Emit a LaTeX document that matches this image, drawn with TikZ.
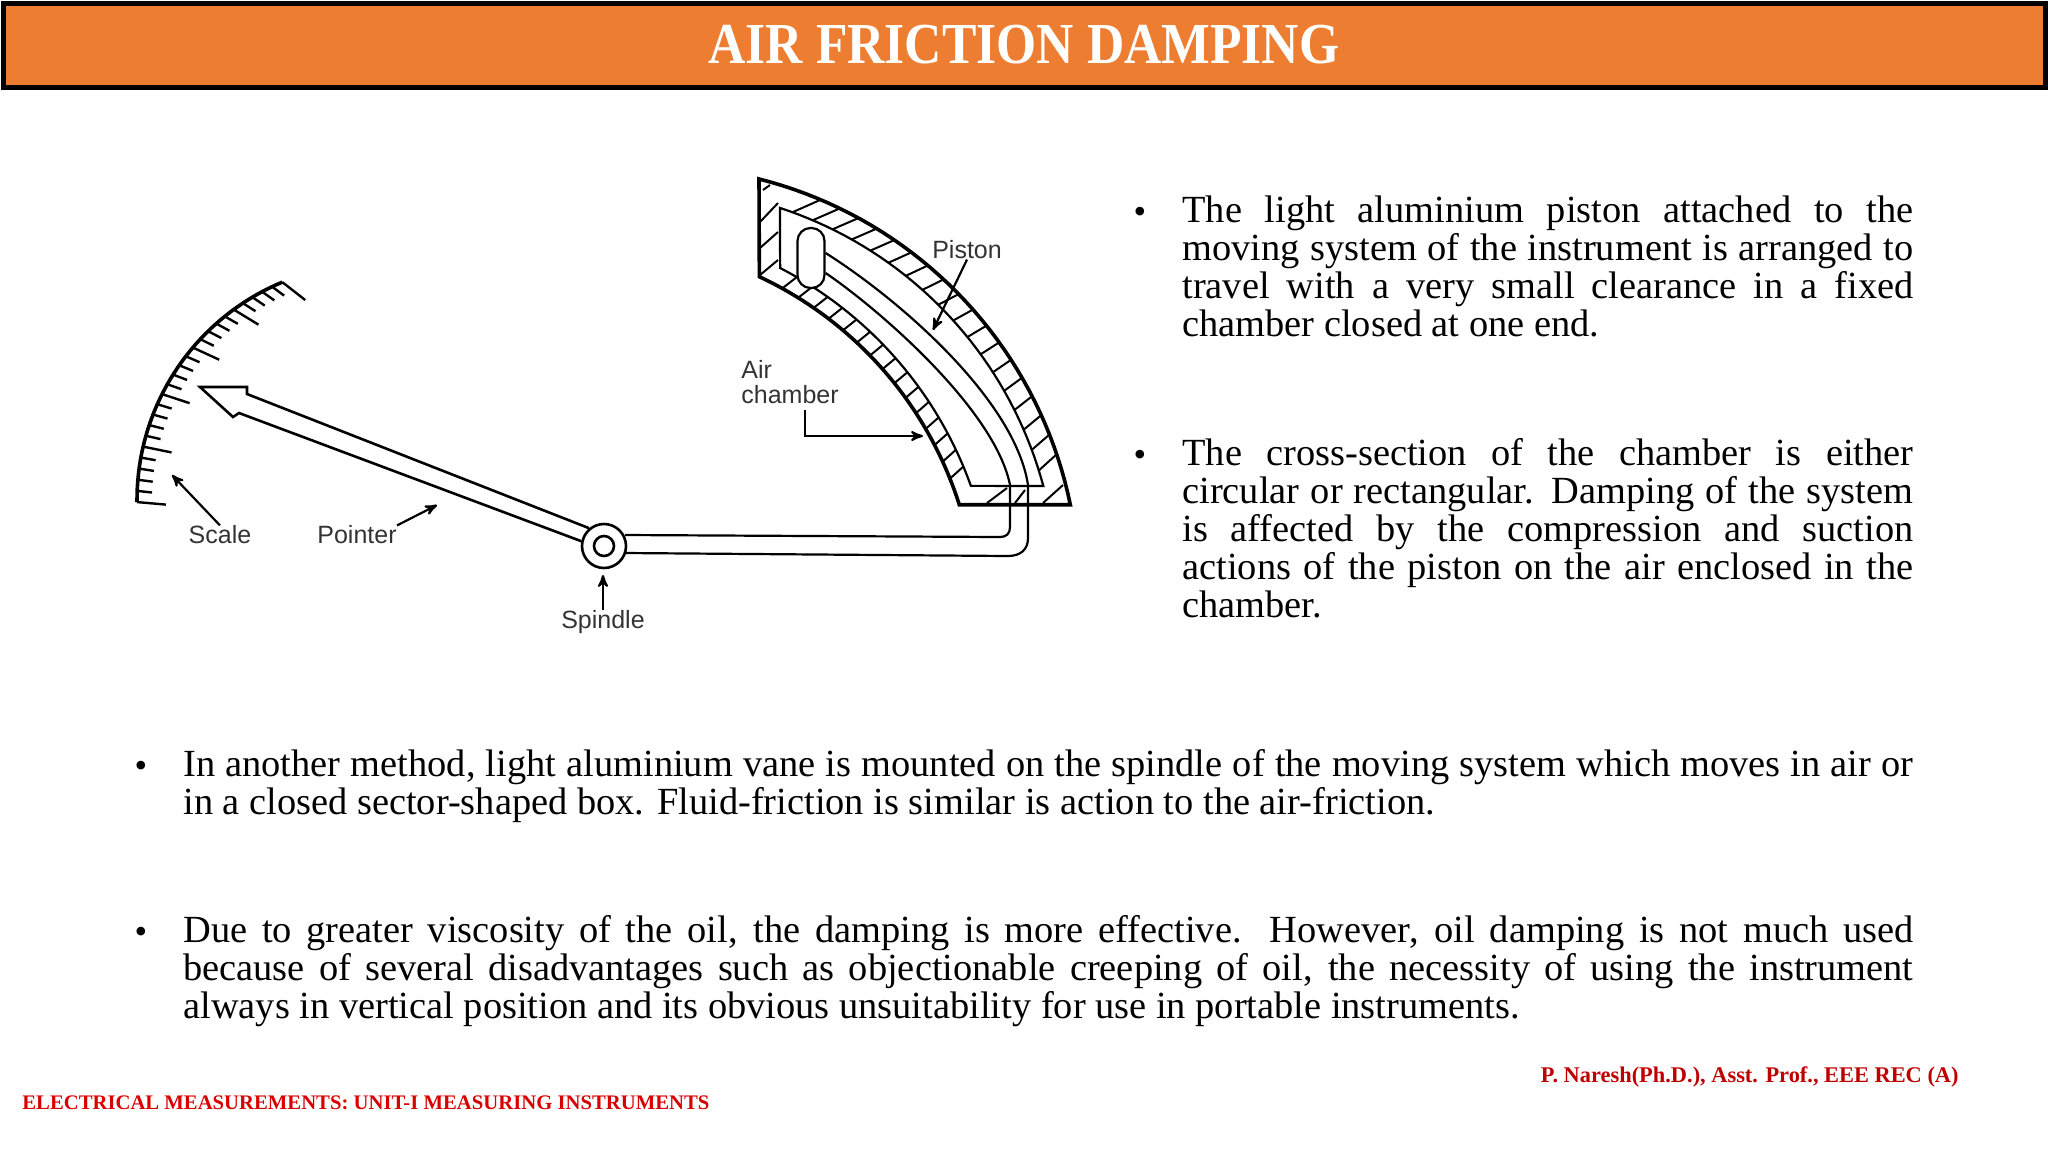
\documentclass[tikz,border=0pt]{standalone}
\usepackage{fontspec}
\setmainfont{Liberation Serif}
\newfontfamily\lblfont{Liberation Sans}
\usetikzlibrary{shapes,arrows}
\definecolor{banner}{HTML}{ED7D31}
\definecolor{inkgrey}{HTML}{333333}
\tikzstyle{wall} = [draw=black, line width=1.8pt, line join=miter]
\tikzstyle{thin wall} = [draw=black, line width=1.1pt]
\tikzstyle{hatch} = [draw=black, line width=1pt]
\tikzstyle{mark line} = [draw=black, line width=1.2pt]
\tikzstyle{lbl} = [font=\lblfont\fontsize{12.5}{12.5}\selectfont, text=inkgrey, inner sep=0pt, align=left]
\tikzstyle{para} = [anchor=north west, inner sep=0pt, align=justify, font=\fontsize{19.2}{19}\selectfont]
\tikzstyle{dot} = [inner sep=0pt, font=\fontsize{18}{19}\selectfont]

\begin{document}
\begin{tikzpicture}[x=0.5pt,y=-0.5pt,>=stealth']
\useasboundingbox (0,0) rectangle (2048,1152);

\node[draw=black, line width=2.5pt, fill=banner, minimum width=1021pt, minimum height=42pt, inner sep=0pt,
  text=white, font=\bfseries\fontsize{29}{30}\selectfont] (title) at (1024,45) {\raisebox{-0.5pt}{\scalebox{0.89}[1]{AIR FRICTION DAMPING}}};

% scale
\draw[wall] plot[domain=180.5:112.6,samples=40] ({373+236*cos(\x)},{500-236*sin(\x)});
\foreach \i in {0,...,25} {
  \pgfmathsetmacro{\ang}{180.5-\i*2.716}
  \pgfmathsetmacro{\dirn}{5+\i*1.32}
  \pgfmathsetmacro{\len}{mod(\i,5)==0 ? 29 : 15}
  \draw[mark line] ({373+236*cos(\ang)},{500-236*sin(\ang)}) -- ++(\dirn:\len);
}

% pointer
\node[draw=black, line width=1.3pt, circle, inner sep=0pt, minimum size=22pt, fill=white] (spindle) at (604,546) {};
\node[draw=black, line width=1.3pt, circle, inner sep=0pt, minimum size=10pt] (pivot) at (604,546) {};
\draw[thin wall, line width=1.3pt] (spindle.168) -- (239,413) -- (233,417) -- (200,387) -- (247,387) -- (247,394) -- (spindle.130);

% chamber
\draw[wall] plot[domain=75.8:11.6,samples=40] ({655+424*cos(\x)},{590-424*sin(\x)})
  -- plot[domain=17.6:64.9,samples=40] ({599+378*cos(\x)},{619-378*sin(\x)}) -- cycle;
\draw[thin wall] plot[domain=71.9:15,samples=40] ({655+402*cos(\x)},{590-402*sin(\x)})
  -- plot[domain=19.7:62.7,samples=40] ({599+395*cos(\x)},{619-395*sin(\x)}) -- cycle;
\foreach \a in {70,66.9,...,16} {
  \pgfmathsetmacro{\b}{\a-3+(70-\a)*0.083}
  \draw[hatch] ({655+402*cos(\a)},{590-402*sin(\a)}) -- ({655+424*cos(\b)},{590-424*sin(\b)});
}
\foreach \a in {61,58.2,...,20} {
  \pgfmathsetmacro{\b}{\a-1+(60-\a)*0.05}
  \draw[hatch] ({599+378*cos(\a)},{619-378*sin(\a)}) -- ({599+395*cos(\b)},{619-395*sin(\b)});
}
\draw[hatch] (763,190) -- (770,185);
\draw[hatch] (760,222) -- (778,203);
\draw[hatch] (760,248) -- (778,232);
\draw[hatch] (760,275) -- (778,260);
\draw[hatch] (987,503) -- (1007,488);
\draw[hatch] (1015,503) -- (1025,490);
\draw[hatch] (1043,503) -- (1063,485);

% piston and rod
\node[draw=black, line width=1.1pt, rounded corners=6.5pt, inner sep=0pt, minimum width=13.5pt, minimum height=30pt, fill=white] (piston) at (811,258) {};
\coordinate (rodupper) at (625,535);
\coordinate (rodlower) at (625,553);
\draw[thin wall] (piston.east |- 0,253) .. controls (900,300) and (1015,400) .. (1028,485) -- (1028,538)
  .. controls (1028,550) and (1020,556) .. (1008,556) -- (rodlower);
\draw[thin wall] (piston.east |- 0,273) .. controls (880,310) and (995,410) .. (1010,485) -- (1010,527)
  .. controls (1010,534) and (1006,537) .. (1000,537) -- (rodupper);

% labels
\node[lbl] (scale) at (220,535) {Scale};
\node[lbl] (pointer) [right of = scale, node distance=68.5pt] {Pointer};
\node[lbl] (spindlelbl) at (603,622) {Spindle};
\node[lbl] (pistonlbl) at (967,250) {Piston};
\node[lbl, anchor=west] (chamber) at (741,382) {Air\\chamber};

\coordinate (scaletip) at (172,475);
\coordinate (pointertip) at (437,505);
\coordinate (spindletip) at (603,575);
\coordinate (pistontip) at (933,330);
\coordinate (chamberbend) at (805,410);
\coordinate (chambertip) at (923,436);

\path[->, line width=1.1pt]
  (scale.north) edge [] node {} (scaletip)
  (pointer.north east) edge [] node {} (pointertip)
  (spindlelbl.north) edge [] node {} (spindletip)
  (pistonlbl.south) edge [] node {} (pistontip);
\draw[->, line width=1.1pt] (chamberbend) |- (chambertip);

% text
\node[dot] (dot1) at (1140,215) {•};
\node[para, text width=365.5pt] (para1) at (1182,195) {The light aluminium piston attached to the\linebreak moving system of the instrument is arranged to\linebreak travel with a very small clearance in a fixed\linebreak chamber closed at one end.};
\node[dot] (dot2) at (1140,458) {•};
\node[para, text width=365.5pt] (para2) at (1182,438) {The cross-section of the chamber is either\linebreak circular or rectangular. Damping of the system\linebreak is affected by the compression and suction\linebreak actions of the piston on the air enclosed in the\linebreak chamber.};
\node[dot] (dot3) at (141,769) {•};
\node[para, text width=865pt] (para3) at (183,749) {In another method, light aluminium vane is mounted on the spindle of the moving system which moves in air or\linebreak in a closed sector-shaped box. Fluid-friction is similar is action to the air-friction.};
\node[dot] (dot4) at (141,935) {•};
\node[para, text width=865pt] (para4) at (183,915) {Due to greater viscosity of the oil, the damping is more effective. However, oil damping is not much used\linebreak because of several disadvantages such as objectionable creeping of oil, the necessity of using the instrument\linebreak always in vertical position and its obvious unsuitability for use in portable instruments.};

\node[inner sep=0pt, text=red!85!black, font=\bfseries\fontsize{10.35}{11}\selectfont, anchor=west] (footleft) at (22,1103) {ELECTRICAL MEASUREMENTS: UNIT-I MEASURING INSTRUMENTS};
\node[inner sep=0pt, text=red!75!black, font=\bfseries\fontsize{11.2}{12}\selectfont, anchor=east] (footright) at (1959,1077) {P. Naresh(Ph.D.), Asst. Prof., EEE REC (A)};
\end{tikzpicture}
\end{document}
